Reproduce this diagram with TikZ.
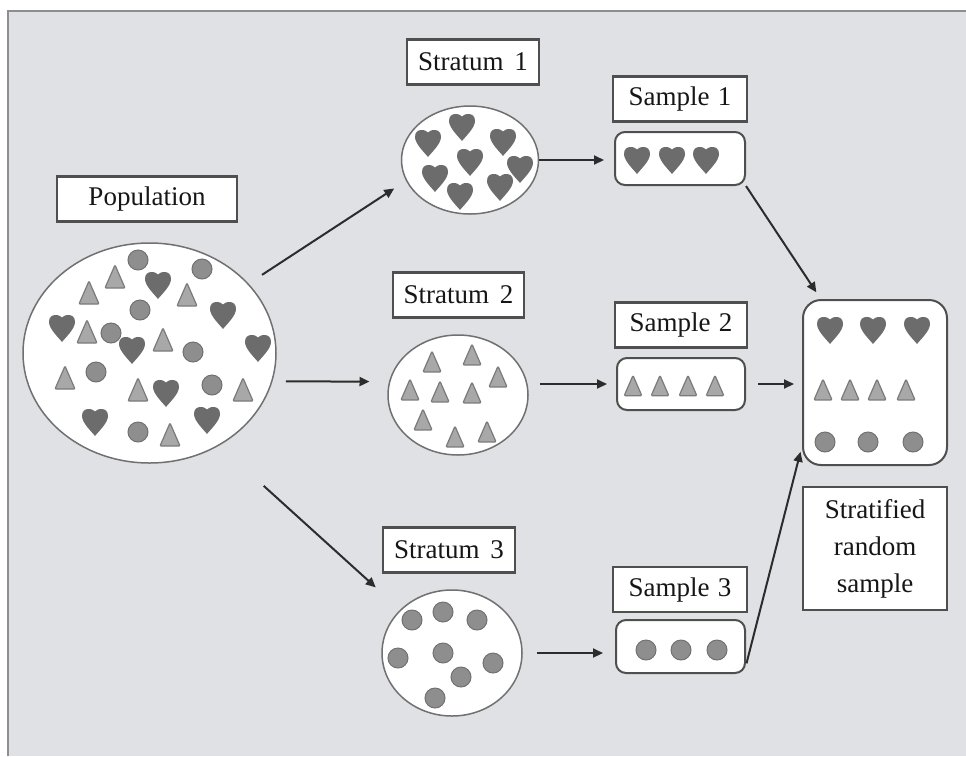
\documentclass[tikz,border=0pt]{standalone}
\usepackage{fontspec}
\setmainfont{Liberation Serif}
\usetikzlibrary{shapes.geometric,arrows.meta,calc}

\definecolor{panel}{HTML}{DFE1E4}
\definecolor{panelline}{HTML}{8C8E90}
\definecolor{boxline}{HTML}{4F4F4F}
\definecolor{ringline}{HTML}{707070}
\definecolor{arrowc}{HTML}{2C2C2C}
\definecolor{textc}{HTML}{161616}
\definecolor{heartc}{HTML}{6C6C6C}
\definecolor{tric}{HTML}{A8A8A8}
\definecolor{tredge}{HTML}{7A7A7A}
\definecolor{dotc}{HTML}{8E8E8E}
\definecolor{dotedge}{HTML}{717171}

\tikzset{
  heart/.pic={
    \fill[heartc] (0,14) .. controls (-3,10) and (-13,1) .. (-13,-6)
      .. controls (-13,-11) and (-10,-13) .. (-6.5,-13)
      .. controls (-3,-13) and (-1,-11.5) .. (0,-10.5)
      .. controls (1,-11.5) and (3,-13) .. (6.5,-13)
      .. controls (10,-13) and (13,-11) .. (13,-6)
      .. controls (13,1) and (3,10) .. (0,14) -- cycle;
  },
  tri/.pic={
    \filldraw[fill=tric, draw=tredge, line width=1.2pt, rounded corners=1pt]
      (0,-12) -- (10,11) -- (-10,11) -- cycle;
  },
  dot/.pic={
    \filldraw[fill=dotc, draw=dotedge, line width=1pt] (0,0) circle[radius=10];
  },
  ring/.style={ellipse, draw=ringline, line width=1.5pt, fill=white, inner sep=0pt},
  tag/.style={draw=boxline, line width=2.5pt, fill=white, inner sep=0pt,
    minimum height=45pt, text=textc, font=\fontsize{27}{32}\selectfont},
  tray/.style={draw=boxline, line width=2pt, fill=white, rounded corners=10pt, inner sep=0pt},
  arr/.style={draw=arrowc, line width=2pt, -{Triangle[length=10pt,width=9pt]}},
}

\begin{document}
\begin{tikzpicture}[x=1pt,y=-1pt]
\useasboundingbox (0,0) rectangle (966,756);
\fill[white] (0,0) rectangle (966,756);
\fill[panel] (8,11) rectangle (966,756);
\draw[panelline, line width=2pt] (8,756) -- (8,11) -- (966,11);

% labels
\node[tag, minimum width=180pt] (poplab) at (147,199) {Population};
\node[tag, minimum width=132pt] (st1lab) at (473,62) {Stratum\hspace{.4em}1};
\node[tag, minimum width=131pt] (st2lab) at (458.5,295) {Stratum\hspace{.4em}2};
\node[tag, minimum width=132pt] (st3lab) at (449,550) {Stratum\hspace{.4em}3};
\node[tag, minimum width=134pt] (sa1lab) at (680,99) {Sample\hspace{.3em}1};
\node[tag, minimum width=132pt] (sa2lab) at (681,325) {Sample\hspace{.3em}2};
\node[tag, minimum width=134pt] (sa3lab) at (680,589.5) {Sample\hspace{.3em}3};
\node[tag, minimum width=144pt, minimum height=123pt, align=center,
      font=\fontsize{27}{37}\selectfont] (srslab) at (875,548.5)
      {Stratified\\random\\sample};

% population and strata
\node[ring, minimum width=253pt, minimum height=220pt] (pop) at (149.5,353) {};
\node[ring, minimum width=137pt, minimum height=108pt] (st1) at (470,160) {};
\node[ring, minimum width=140pt, minimum height=120pt] (st2) at (458,395) {};
\node[ring, minimum width=140pt, minimum height=126pt] (st3) at (452,653) {};

% samples
\node[tray, minimum width=130pt, minimum height=53pt] (sa1) at (680,158.5) {};
\node[tray, minimum width=128pt, minimum height=52pt] (sa2) at (681,384) {};
\node[tray, minimum width=129pt, minimum height=53pt] (sa3) at (680.5,646.5) {};
\node[tray, rounded corners=18pt, minimum width=144pt, minimum height=165pt] (fin) at (875,382.5) {};

% population members
\foreach \px/\py in {158/285,223/315,62/328,132/350,258/348,166/393,95/422,207/420}
  \pic at (\px,\py) {heart};
\foreach \px/\py in {115/277,89/293,187/295,87/332,163/340,65/378,138/390,243/390,170/435}
  \pic at (\px,\py) {tri};
\foreach \px/\py in {138/260,202/269,140/310,111/333,193/352,96/372,212/385,138/432}
  \pic at (\px,\py) {dot};

% stratum 1: hearts
\foreach \px/\py in {462/127,428/143,503/142,470/162,520/169,435/178,500/187,460/196}
  \pic at (\px,\py) {heart};
% stratum 2: triangles
\foreach \px/\py in {432/362,472/355,498/377,410/390,440/392,472/393,423/420,455/437,487/432}
  \pic[scale=0.9] at (\px,\py) {tri};
% stratum 3: circles
\foreach \px/\py in {412/620,443/612,477/620,398/658,443/653,493/663,461/677,435/698}
  \pic at (\px,\py) {dot};

% samples
\foreach \px in {637,672,706}
  \pic at (\px,160) {heart};
\foreach \px in {633,660,688,715}
  \pic[scale=0.88] at (\px,386) {tri};
\foreach \px in {646,681,717}
  \pic at (\px,650) {dot};

% combined sample
\foreach \px in {830,873,917}
  \pic at (\px,330) {heart};
\foreach \px in {823,850,877,906}
  \pic[scale=0.9] at (\px,390) {tri};
\foreach \px in {825,868,913}
  \pic at (\px,442) {dot};

% connectors
\draw[arr, shorten <=16pt, shorten >=14pt] (pop.35) -- (st1.198);
\draw[arr, shorten <=13.5pt, shorten >=19.5pt] (pop.-13.37) -- (st2.169.22);
\draw[arr, shorten <=60pt, shorten >=33pt] (pop.-53.9) -- (st3.140.1);

\draw[arr, shorten >=10pt] (st1.east) -- (st1.east -| sa1.west);
\draw[arr, shorten <=11pt, shorten >=9pt] (sa2.west -| st2.east) -- (sa2.west);
\draw[arr, shorten <=14pt, shorten >=12pt] (st3.east) -- (st3.east -| sa3.west);

\draw[arr, shorten >=8pt] (sa1.south east) -- (fin.123);
\draw[arr, shorten <=12pt, shorten >=8pt] (sa2.east) -- (sa2.east -| fin.west);
\draw[arr, shorten <=2pt, shorten >=6pt] (sa3.-16) -- (fin.221);
\end{tikzpicture}
\end{document}
